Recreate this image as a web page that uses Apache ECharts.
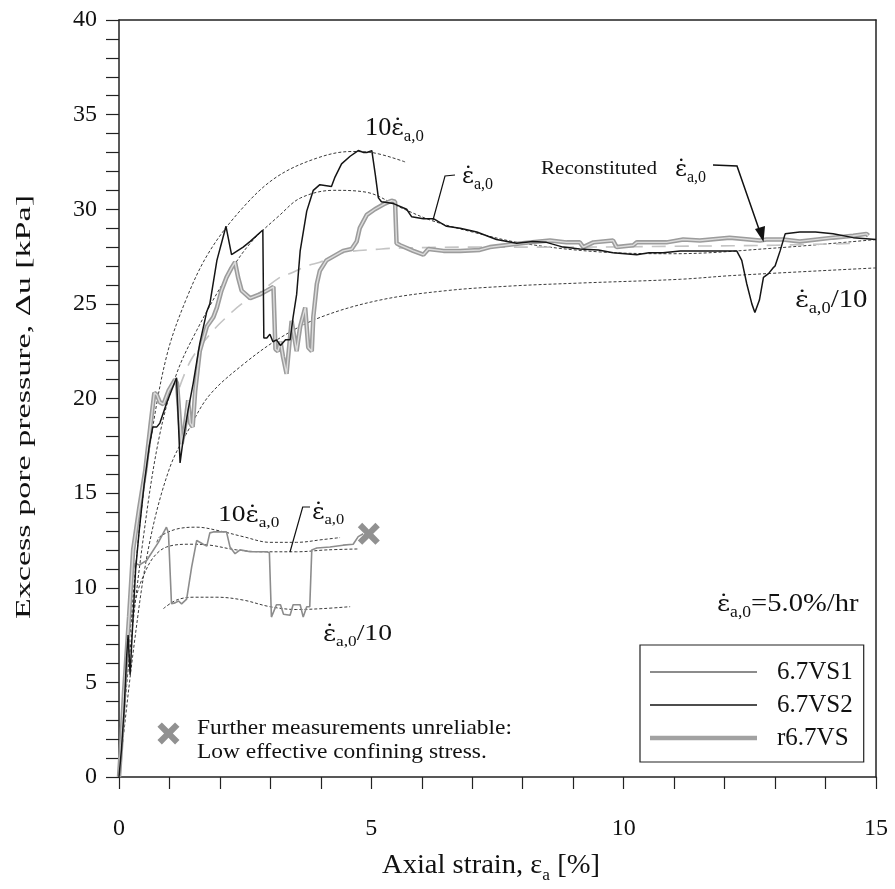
<!DOCTYPE html>
<html><head><meta charset="utf-8">
<script src="https://cdn.jsdelivr.net/npm/echarts@6/dist/echarts.min.js"></script>
<style>html,body{margin:0;padding:0;background:#fff}#c{width:895px;height:889px}</style>
</head><body><div id="c"></div>
<script>
const FONT = 'Liberation Serif';
const DOTFONT = 'DejaVu Serif';
const xLabelValues = [0, 5, 10, 15];
const yLabelValues = [0, 5, 10, 15, 20, 25, 30, 35, 40];
const seriesNames = ['6.7VS1', '6.7VS2', 'r6.7VS'];

// 6.7VS1 (thin grey)
const vs1 = [[0,0],[0.05,1.5],[0.1,3.5],[0.15,6.5],[0.2,8.5],[0.27,10.8],[0.32,11.3],[0.4,11.2],[0.55,11.45],[0.78,12.4],[0.94,13.2],[0.98,12.9],[1.04,9.15],[1.11,9.2],[1.18,9.3],[1.24,9.15],[1.34,9.4],[1.44,11.1],[1.54,12.5],[1.57,12.6],[1.67,12.3],[1.74,12.2],[1.8,12.9],[1.87,12.95],[2.13,12.95],[2.2,12.15],[2.3,11.8],[2.4,12.0],[2.6,11.9],[2.93,11.9],[2.98,11.85],[3.02,8.45],[3.12,9.1],[3.2,9.1],[3.26,8.6],[3.39,8.55],[3.45,9.1],[3.59,9.1],[3.65,8.45],[3.72,9.0],[3.78,9.0],[3.82,12.0],[3.92,12.1],[4.18,12.15],[4.44,12.25],[4.64,12.3],[4.74,12.7],[4.84,12.85]];
// 6.7VS2 (black)
const vs2 = [[0,0],[0.05,1.5],[0.1,3.5],[0.15,6.3],[0.18,7.5],[0.22,5.4],[0.27,8],[0.33,11],[0.4,13],[0.5,15.5],[0.6,17.5],[0.67,18.5],[0.75,18.5],[0.81,18.7],[0.95,19.8],[1.11,20.9],[1.14,21.1],[1.21,16.6],[1.27,17.8],[1.37,19.4],[1.47,20.8],[1.6,22.9],[1.74,24.6],[1.8,25.0],[1.94,27.3],[2.12,29.1],[2.23,27.6],[2.46,28.0],[2.6,28.3],[2.85,28.9],[2.87,23.2],[2.93,23.2],[2.99,23.4],[3.05,23.0],[3.12,23.1],[3.2,22.8],[3.3,23.1],[3.39,23.1],[3.45,24.3],[3.52,25.5],[3.59,27.8],[3.72,29.9],[3.85,31.0],[3.98,31.3],[4.21,31.2],[4.28,31.7],[4.41,32.4],[4.58,32.8],[4.74,33.1],[4.85,33.0],[4.91,33.0],[5.01,33.1],[5.08,31.8],[5.14,30.6],[5.2,30.4],[5.44,30.3],[5.7,30.0],[5.8,29.6],[6.03,29.5],[6.23,29.5],[6.49,29.1],[6.76,29.0],[7.09,28.8],[7.48,28.4],[7.88,28.2],[8.2,28.3],[8.47,28.25],[8.8,28.0],[9.13,27.9],[9.5,27.85],[9.79,27.7],[10.26,27.6],[10.5,27.7],[10.78,27.7],[11.12,27.8],[11.58,27.8],[11.9,27.8],[12.24,27.8],[12.34,27.3],[12.44,26.05],[12.54,25.0],[12.6,24.55],[12.69,25.2],[12.77,26.4],[12.87,26.6],[12.96,26.9],[13.0,27.0],[13.1,27.8],[13.2,28.7],[13.49,28.8],[13.8,28.8],[14.15,28.7],[14.55,28.5],[15.0,28.4]];
// r6.7VS (thick grey)
const r67 = [[0,0],[0.05,2],[0.1,4.5],[0.2,8.5],[0.28,12],[0.4,14.2],[0.52,16.2],[0.62,18.5],[0.7,20.3],[0.75,20.2],[0.81,19.8],[0.88,19.7],[0.98,20.4],[1.11,21.0],[1.15,20.8],[1.24,17.6],[1.3,18.4],[1.37,19.9],[1.41,18.7],[1.46,18.5],[1.51,20.4],[1.6,22.5],[1.74,23.8],[1.87,24.3],[1.94,24.8],[2.03,25.7],[2.13,26.4],[2.23,26.9],[2.3,27.2],[2.36,26.4],[2.43,25.7],[2.6,25.3],[2.79,25.5],[2.93,25.7],[3.06,25.9],[3.1,22.6],[3.15,22.5],[3.2,23.0],[3.25,22.2],[3.32,21.3],[3.42,24.1],[3.52,22.5],[3.59,23.8],[3.69,24.8],[3.75,22.7],[3.82,22.5],[3.85,24.3],[3.92,26.05],[3.98,26.75],[4.11,27.3],[4.44,27.8],[4.61,27.9],[4.71,28.3],[4.77,29.0],[4.91,29.7],[5.07,30.0],[5.27,30.3],[5.4,30.45],[5.47,30.4],[5.5,28.2],[5.57,28.1],[5.83,27.8],[6.03,27.6],[6.13,27.9],[6.43,27.8],[6.76,27.8],[7.15,27.85],[7.35,28.0],[7.81,28.15],[8.14,28.25],[8.54,28.35],[8.87,28.25],[9.13,28.25],[9.2,28.0],[9.4,28.25],[9.79,28.35],[9.86,28.0],[10.19,28.1],[10.26,28.25],[10.85,28.25],[11.18,28.4],[11.51,28.35],[12.1,28.5],[12.7,28.35],[12.83,28.4],[13.16,28.4],[13.49,28.3],[14.15,28.5],[14.55,28.6],[14.81,28.7],[14.85,28.6]];

// fitted trends (dashed)
const fitFastUpper = [[0,0],[0.2,7],[0.4,13],[0.6,17.3],[0.94,22.2],[1.34,25.3],[1.8,27.8],[2.46,30.1],[3.12,31.7],[3.92,32.7],[4.6,33.05],[5.0,33.0],[5.67,32.5]];
const fitBaseUpper = [[0,0],[0.2,6.2],[0.5,13],[0.8,18],[1.14,21.3],[1.54,23.6],[2.13,26.4],[2.6,28.2],[3.19,29.7],[3.6,30.6],[4.25,31.0],[4.9,30.9],[5.57,30.1],[6.2,29.4],[7.0,28.8],[8.0,28.2],[9.5,27.75],[11,27.65],[13,27.95],[15,28.4]];
const fitSlowUpper = [[0,0],[0.3,7],[0.6,12.3],[1.0,16.3],[1.41,18.5],[1.8,20.2],[2.46,21.8],[3.19,23.2],[4.0,24.3],[5.17,25.2],[6.49,25.7],[7.81,25.95],[9.13,26.1],[11.12,26.3],[12.17,26.5],[15,26.9]];
const fitRecon = [[1.2,20.6],[1.44,22.1],[1.87,23.6],[2.13,24.3],[2.43,25.0],[2.66,25.35],[3.19,26.4],[3.39,26.6],[3.72,27.0],[3.98,27.2],[4.44,27.7],[5.2,27.9],[5.57,27.95],[7,28.0],[9,28.0],[11.3,28.05],[13,28.1],[14.6,28.2]];
const fitFastLower = [[0.75,12.4],[0.81,12.7],[1.14,13.1],[1.54,13.2],[2.0,13.0],[2.46,12.7],[2.99,12.4],[3.52,12.4],[4.05,12.55],[4.38,12.65]];
const fitBaseLower = [[0,0],[0.1,4],[0.22,7.8],[0.35,9.6],[0.48,10.6],[0.68,11.6],[0.94,12.15],[1.41,12.3],[1.8,12.25],[2.33,12.0],[2.86,11.9],[3.52,11.9],[4.12,12.0],[4.74,12.05]];
const fitSlowLower = [[0.88,8.9],[1.14,9.35],[1.47,9.5],[1.94,9.5],[2.46,9.35],[2.99,9.0],[3.52,8.85],[4.05,8.9],[4.58,9.0]];
const unreliablePoint = [[4.95,12.85]];
const noteMarker = [[0.98,2.3]];

const EDOT = 'ε\u0307';
const XPATH = 'path://M0,4 L4,0 L10,6 L16,0 L20,4 L14,10 L20,16 L16,20 L10,14 L4,20 L0,16 L6,10 Z';
function lineIcon(h) {
  const t = 7 - h / 2, b = 7 + h / 2;
  return 'path://M0,0 L0.01,0 Z M0,14 L0.01,14 Z M0,' + t + ' L107,' + t + ' L107,' + b + ' L0,' + b + ' Z';
}

function dashed(data, z) {
  return {type:'line', data, symbol:'none', smooth:0.35, silent:true, z:z||2,
    lineStyle:{color:'#3a3a3a', width:1, type:[3,2]}};
}

const measureCtx = document.createElement('canvas').getContext('2d');
function fitScale(text, size, target) {
  measureCtx.font = size + 'px "' + FONT + '"';
  return target / measureCtx.measureText(text).width;
}

// rich text with subscripts; x = left edge, y = centre of main text
// parts: [text, kind] kind: 'm' main, 'e' dotted epsilon, 's' subscript
function richText(x, y, parts, size, sx) {
  const lh = size + 4;
  const ss = Math.round(size * 0.62);
  const txt = parts.map(p => '{' + p[1] + '|' + p[0] + '}').join('');
  return {type:'text', x: x, y: y - size / 2 - 4, scaleX: sx || 1, silent:true, z:50,
    style:{text: txt, align:'left', verticalAlign:'top', fill:'#111',
      fontFamily: FONT, fontSize: size,
      rich:{
        m:{fontFamily:FONT, fontSize:size, fill:'#111', lineHeight:lh, verticalAlign:'bottom'},
        e:{fontFamily:DOTFONT, fontSize:Math.round(size*0.9), fill:'#111', lineHeight:lh, verticalAlign:'bottom'},
        s:{fontFamily:FONT, fontSize:ss, fill:'#111', height:Math.round(size*0.33), verticalAlign:'bottom'}
      }}};
}
function plainText(x, y, text, size, opts) {
  opts = opts || {};
  return {type:'text', x:x, y:y, silent:true, z:50, rotation: opts.rotation || 0,
    scaleX: opts.scale || (opts.target ? fitScale(text, size, opts.target) : 1),
    style:{text:text, fontFamily:FONT, fontSize:size, fill:'#111', align: opts.align || 'left', verticalAlign:'middle'}};
}
const noteScale = fitScale('Further measurements unreliable:', 21, 315);

const chart = echarts.init(document.getElementById('c'), null, {renderer:'canvas'});
const axisColor = '#222';
const option = {
  backgroundColor:'#fff',
  animation:false,
  grid:{left:119, right:19, top:20, bottom:112},
  xAxis:[{
    type:'value', min:0, max:15, interval:1,
    axisLine:{show:true, onZero:false, lineStyle:{color:axisColor, width:1.5}},
    axisTick:{show:true, length:12, lineStyle:{color:axisColor, width:1.2}},
    axisLabel:{margin:40, fontFamily:FONT, fontSize:24, color:'#111',
      formatter: v => xLabelValues.indexOf(v) >= 0 ? String(v) : ''},
    splitLine:{show:false}
  },{
    type:'value', min:0, max:15, position:'top',
    axisLine:{show:true, onZero:false, lineStyle:{color:axisColor, width:1.5}},
    axisTick:{show:false}, axisLabel:{show:false}, splitLine:{show:false}
  }],
  yAxis:[{
    type:'value', min:0, max:40, interval:1,
    axisLine:{show:true, onZero:false, lineStyle:{color:axisColor, width:1.5}},
    axisTick:{show:true, length:13, lineStyle:{color:axisColor, width:1.2}},
    axisLabel:{margin:22, fontFamily:FONT, fontSize:24, color:'#111',
      formatter: v => yLabelValues.indexOf(v) >= 0 ? String(v) : ''},
    splitLine:{show:false}
  },{
    type:'value', min:0, max:40, position:'right',
    axisLine:{show:true, onZero:false, lineStyle:{color:axisColor, width:1.5}},
    axisTick:{show:false}, axisLabel:{show:false}, splitLine:{show:false}
  }],
  legend:{
    data:[
      {name:seriesNames[0], icon:lineIcon(2), itemStyle:{color:'#8c8c8c'}},
      {name:seriesNames[1], icon:lineIcon(1.6), itemStyle:{color:'#151515'}},
      {name:seriesNames[2], icon:lineIcon(4.5), itemStyle:{color:'#a2a2a2'}}
    ],
    orient:'vertical', left:640, top:645,
    itemWidth:107, itemHeight:14, itemGap:3, padding:[12,11,9,10],
    borderColor:'#222', borderWidth:1.2, selectedMode:false,
    textStyle:{fontFamily:FONT, fontSize:25, color:'#111', lineHeight:30, padding:[0,0,0,15]}
  },
  series:[
    dashed(fitFastUpper), dashed(fitBaseUpper), dashed(fitSlowUpper),
    dashed(fitFastLower), dashed(fitBaseLower), dashed(fitSlowLower),
    {type:'line', data:fitRecon, symbol:'none', smooth:0.35, silent:true, z:2,
      lineStyle:{color:'#c4c4c4', width:1.6, type:[14,9]}},
    {name:seriesNames[0], type:'line', data:vs1, symbol:'none', z:4,
      lineStyle:{color:'#8c8c8c', width:1.6}},
    {name:seriesNames[2], type:'line', data:r67, symbol:'none', z:5,
      lineStyle:{color:'#9c9c9c', width:4.5}},
    {type:'line', data:r67, symbol:'none', z:6, silent:true,
      lineStyle:{color:'#dcdcdc', width:1.4}},
    {name:seriesNames[1], type:'line', data:vs2, symbol:'none', z:7,
      lineStyle:{color:'#151515', width:1.5}},
    {type:'scatter', data:unreliablePoint, symbol:XPATH, symbolSize:22, z:8, silent:true,
      itemStyle:{color:'#767676'}},
    {type:'scatter', data:noteMarker, symbol:XPATH, symbolSize:22, z:8, silent:true,
      itemStyle:{color:'#767676'}}
  ],
  graphic:[
    plainText(24, 407, 'Excess pore pressure, Δu [kPa]', 22, {rotation:Math.PI/2, align:'center', target:424}),
    richText(382, 866, [['Axial strain, ε','m'],['a','s'],[' [%]','m']], 28, 1.02),
    richText(365, 128, [['10','m'],[EDOT,'e'],['a,0','s']], 25, 1.05),
    richText(462, 176, [[EDOT,'e'],['a,0','s']], 25),
    plainText(541, 169, 'Reconstituted', 19, {target:116}),
    richText(675, 169, [[EDOT,'e'],['a,0','s']], 25),
    richText(795, 300, [[EDOT,'e'],['a,0','s'],['/10','m']], 25, 1.15),
    richText(218, 515, [['10','m'],[EDOT,'e'],['a,0','s']], 24, 1.15),
    richText(312, 512, [[EDOT,'e'],['a,0','s']], 24, 1.1),
    richText(323, 634, [[EDOT,'e'],['a,0','s'],['/10','m']], 24, 1.15),
    richText(717, 604, [[EDOT,'e'],['a,0','s'],['=5.0%/hr','m']], 26, 1.1),
    plainText(197, 728, 'Further measurements unreliable:', 21, {scale:noteScale}),
    plainText(197, 752, 'Low effective confining stress.', 21, {scale:noteScale}),
    {type:'polyline', silent:true, z:50, shape:{points:[[455,175],[445,176],[433,220]]}, style:{stroke:'#111', lineWidth:1.2, fill:null}},
    {type:'polyline', silent:true, z:50, shape:{points:[[310,507],[302.7,507],[290,552]]}, style:{stroke:'#111', lineWidth:1.2, fill:null}},
    {type:'polyline', silent:true, z:50, shape:{points:[[713,165],[737,166],[761,235]]}, style:{stroke:'#111', lineWidth:1.5, fill:null}},
    {type:'polygon', silent:true, z:50, shape:{points:[[763.5,242],[755,229],[765,226]]}, style:{fill:'#111'}}
  ]
};
chart.setOption(option);
</script>
</body></html>
